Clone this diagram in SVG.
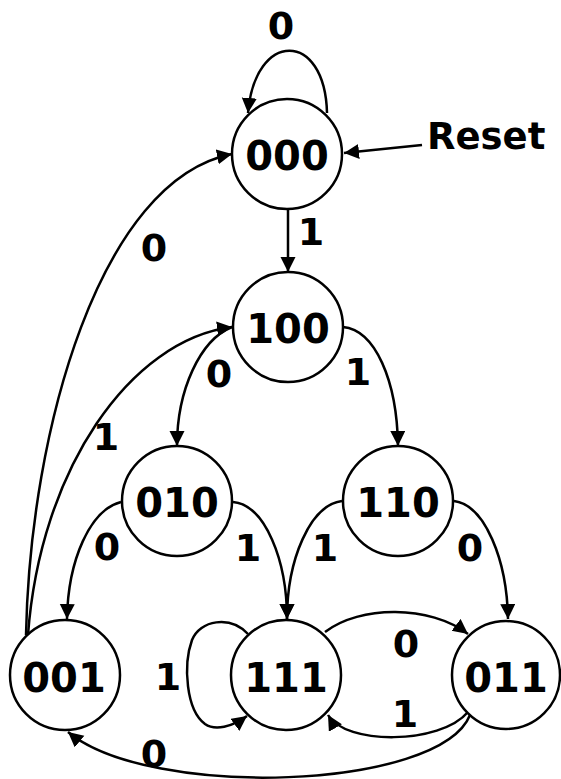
<svg xmlns="http://www.w3.org/2000/svg" width="561" height="779" viewBox="0 0 561 779">
<style>
.node{fill:#fff;stroke:#000;stroke-width:2.5}
.nl{font-family:"DejaVu Sans",Verdana,sans-serif;font-weight:bold;font-size:40px;text-anchor:middle;fill:#000}
.el{font-family:"DejaVu Sans",Verdana,sans-serif;font-weight:bold;font-size:38px;text-anchor:middle;fill:#000}
.c{fill:none;stroke:#000;stroke-width:2.5;marker-end:url(#ah)}
</style>
<defs>
<marker id="ah" markerUnits="userSpaceOnUse" markerWidth="16" markerHeight="16" refX="15" refY="7.5" orient="auto">
<path d="M0,0 L15,7.5 L0,15 z" fill="#000"/>
</marker>
</defs>
<g id="connectors">
<path class="c" d="M327,113 C325,30 255,30 248,113"/>
<path class="c" d="M422,145 L344,153"/>
<path class="c" d="M288,209 L288,272"/>
<path class="c" d="M343,327 C375,330 397,380 398,446"/>
<path class="c" d="M232,327 C200,340 177,390 177,446"/>
<path class="c" d="M28,635 C40,470 130,340 232,327"/>
<path class="c" d="M26,635 C30,430 100,180 232,154"/>
<path class="c" d="M121,502 C90,510 68,560 67,619"/>
<path class="c" d="M233,502 C265,505 287,560 287,619"/>
<path class="c" d="M342,501 C310,505 287,560 287,619"/>
<path class="c" d="M454,501 C485,505 507,560 508,619"/>
<path class="c" d="M325,632 C360,605 430,605 468,634"/>
<path class="c" d="M468,712 C440,745 345,745 328,715"/>
<path class="c" d="M470,715 C440,790 150,800 68,732"/>
<path class="c" d="M248,634 C230,615 200,620 192,640 C183,665 186,710 205,724 C215,731 232,727 247,716"/>
</g>
<g id="edge-labels">
<text class="el" x="281" y="39">0</text>
<text x="427" y="149" style="font-family:'DejaVu Sans',Verdana,sans-serif;font-weight:bold;font-size:37px;fill:#000">Reset</text>
<text class="el" x="311" y="245">1</text>
<text class="el" x="154" y="261">0</text>
<text class="el" x="219" y="387">0</text>
<text class="el" x="358" y="385">1</text>
<text class="el" x="106" y="450">1</text>
<text class="el" x="107" y="560">0</text>
<text class="el" x="248" y="561">1</text>
<text class="el" x="325" y="561">1</text>
<text class="el" x="470" y="561">0</text>
<text class="el" x="168" y="690">1</text>
<text class="el" x="406" y="657">0</text>
<text class="el" x="405" y="727">1</text>
<text class="el" x="154" y="767">0</text>
</g>
<g id="n000"><circle class="node" cx="287" cy="154" r="55"/><text class="nl" x="287" y="170">000</text></g>
<g id="n100"><circle class="node" cx="288" cy="327" r="55"/><text class="nl" x="288" y="343">100</text></g>
<g id="n010"><circle class="node" cx="177" cy="501" r="55"/><text class="nl" x="177" y="517">010</text></g>
<g id="n110"><circle class="node" cx="398" cy="501" r="55"/><text class="nl" x="398" y="517">110</text></g>
<g id="n001"><circle class="node" cx="65" cy="675" r="55"/><text class="nl" x="64" y="692">001</text></g>
<g id="n111"><circle class="node" cx="286" cy="675" r="55"/><text class="nl" x="286" y="692">111</text></g>
<g id="n011"><circle class="node" cx="506" cy="675" r="54"/><text class="nl" x="506" y="692">011</text></g>
</svg>
